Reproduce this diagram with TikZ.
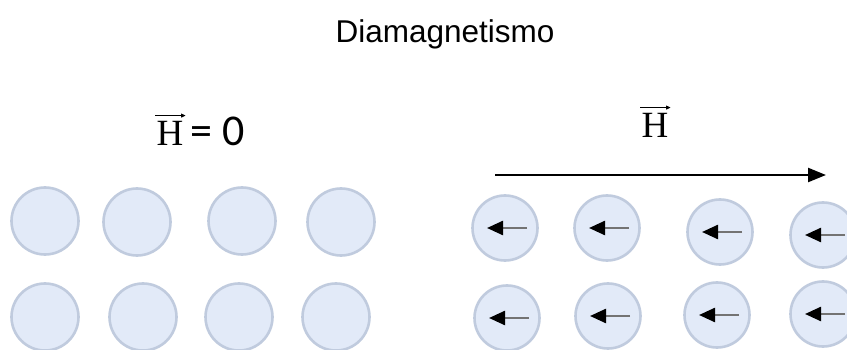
\documentclass[tikz,border=0pt]{standalone}
\usepackage{fontspec}
\setmainfont{Liberation Serif}
\newfontfamily\titlefont{Liberation Sans}
\newfontfamily\numfont{Carlito}
\usetikzlibrary{arrows.meta}
\definecolor{atomfill}{RGB}{226,234,248}
\definecolor{atomline}{RGB}{192,203,222}
\definecolor{spinstem}{RGB}{115,115,115}

\begin{document}
\begin{tikzpicture}[x=1pt,y=-1pt,
  atom/.style={circle, draw=atomline, fill=atomfill, line width=2.6pt,
               minimum size=#1, inner sep=0pt},
  atom/.default=67pt,
  spin/.style={draw=spinstem, line width=2.4pt,
               -{Triangle[length=16pt,width=14pt,color=black,fill=black]}},
  field/.style={line width=2.4pt, -{Triangle[length=18pt,width=14pt]}},
  vecbar/.style={line width=0.9pt, -{Triangle[length=4.5pt,width=4pt]}},
  lbl/.style={inner sep=0pt, font=\fontsize{37}{40}\selectfont}
]
\clip (0,0) rectangle (847,350);
\fill[white] (0,0) rectangle (847,350);

% title
\node[font=\titlefont\fontsize{31.5}{34}\selectfont] (title) at (445,34) {Diamagnetismo};

% left panel: no applied field
\node[lbl, anchor=base] (hL) at (170,146) {H};
\node[lbl, anchor=base west, font=\numfont\fontsize{44}{46}\selectfont] (zero) at ([xshift=7pt]hL.base east) {= 0};
\draw[vecbar] ([yshift=6pt,xshift=-1pt]hL.north west) -- ([yshift=6pt,xshift=2pt]hL.north east);

\foreach \n/\x/\y in {a1/45/221, a2/137/222, a3/242/221, a4/341/222,
                      b1/45/317, b2/143/317, b3/239/317, b4/336/317}
  \node[atom] (\n) at (\x,\y) {};

% right panel: applied field H
\node[lbl, anchor=base] (hR) at (655,138) {H};
\draw[vecbar] ([yshift=6pt,xshift=-1pt]hR.north west) -- ([yshift=6pt,xshift=2pt]hR.north east);

\coordinate (fs) at (495,175);
\coordinate (fe) at (826,175);
\draw[field] (fs) -- (fe);

\foreach \n/\x/\y in {c1/505/228, c2/607/228, c3/720/232, c4/823/235,
                      d1/507/318, d2/608/316, d3/717/315, d4/823/314} {
  \node[atom=65pt] (\n) at (\x,\y) {};
  \draw[spin] ([xshift=22pt]\n.center) -- ([xshift=-18pt]\n.center);
}
\end{tikzpicture}
\end{document}
